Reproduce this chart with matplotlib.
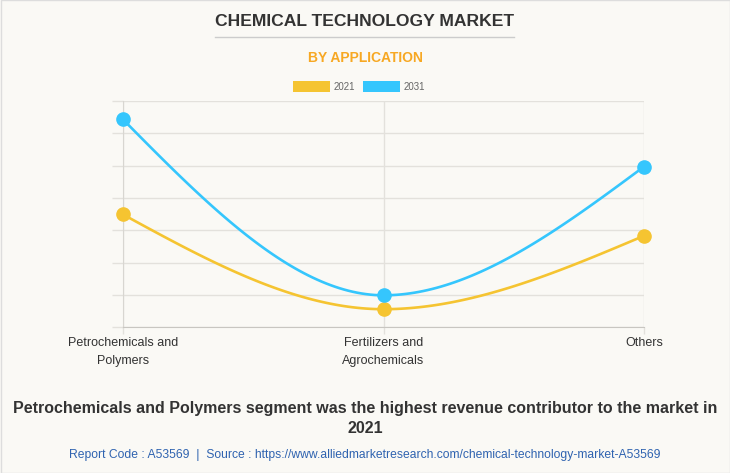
import numpy as np
import matplotlib.pyplot as plt
from matplotlib.patches import Rectangle

plt.rcParams['font.family'] = ['Liberation Sans', 'DejaVu Sans']

categories = ["Petrochemicals and\nPolymers", "Fertilizers and\nAgrochemicals", "Others"]
years = ["2021", "2031"]
values_2021 = [34.9, 5.6, 28.3]
values_2031 = [64.3, 9.9, 49.7]
colors = ["#f5c431", "#35c6fd"]


def monotone(x, y, n=60):
    # monotone cubic (like d3 curveMonotoneX)
    x = np.asarray(x, float)
    y = np.asarray(y, float)
    h = np.diff(x)
    s = np.diff(y) / h
    t = np.zeros_like(y)
    for i in range(1, len(y) - 1):
        if s[i - 1] * s[i] <= 0:
            t[i] = 0
        else:
            p = (s[i - 1] * h[i] + s[i] * h[i - 1]) / (h[i - 1] + h[i])
            t[i] = (np.sign(s[i - 1]) + np.sign(s[i])) * min(abs(s[i - 1]), abs(s[i]), 0.5 * abs(p))
    t[0] = (3 * s[0] - t[1]) / 2
    t[-1] = (3 * s[-1] - t[-2]) / 2
    xs, ys = [], []
    for i in range(len(h)):
        u = np.linspace(0, 1, n)
        h00 = 2 * u**3 - 3 * u**2 + 1
        h10 = u**3 - 2 * u**2 + u
        h01 = -2 * u**3 + 3 * u**2
        h11 = u**3 - u**2
        xs.append(x[i] + u * h[i])
        ys.append(h00 * y[i] + h10 * h[i] * t[i] + h01 * y[i + 1] + h11 * h[i] * t[i + 1])
    return np.concatenate(xs), np.concatenate(ys)


bg = "#faf9f5"
fig = plt.figure(figsize=(7.3, 4.73), dpi=100, facecolor=bg)
ax = fig.add_axes([123 / 730, 1 - 327.3 / 473, 521 / 730, 226.3 / 473])
ax.set_facecolor(bg)

xpos = np.arange(len(categories))
for vals, col, lab in zip([values_2021, values_2031], colors, years):
    sx, sy = monotone(xpos, vals)
    ax.plot(sx, sy, color=col, lw=1.9, solid_capstyle="round", zorder=3, clip_on=False)
    ax.plot(xpos, vals, "o", color=col, ms=9.5, zorder=4, clip_on=False)

ax.set_xlim(0, 2)
ax.set_ylim(0, 70)
ax.set_yticks(np.arange(0, 71, 10))
ax.set_yticklabels([])
ax.set_xticks(xpos)
ax.set_xticklabels(categories, fontsize=9, color="#333333", linespacing=1.65)
ax.tick_params(axis="y", length=8, color="#e3e1dc", width=1)
ax.tick_params(axis="x", length=5, color="#e3e1dc", width=1, pad=2)
ax.grid(True, color="#e3e1dc", lw=1)
ax.set_axisbelow(True)
for side in ["top", "right"]:
    ax.spines[side].set_visible(False)
ax.spines["left"].set_color("#d8d6d1")
ax.spines["bottom"].set_color("#c8c6c1")

fig.text(0.5, 1 - 21 / 473, "CHEMICAL TECHNOLOGY MARKET", ha="center", va="center",
         fontsize=12.6, fontweight="bold", color="#333333")
fig.add_artist(plt.Line2D([215 / 730, 514 / 730], [1 - 37.5 / 473] * 2, color="#cccccc", lw=1))
fig.text(0.5, 1 - 58 / 473, "BY APPLICATION", ha="center", va="center",
         fontsize=10, fontweight="bold", color="#f7a823")

# legend
lx = [293, 363]
for x0, col, lab in zip(lx, colors, years):
    fig.add_artist(Rectangle((x0 / 730, 1 - 92 / 473), 37 / 730, 11 / 473,
                             transform=fig.transFigure, color=col, lw=0))
    fig.text((x0 + 41) / 730, 1 - 86.5 / 473, lab, ha="left", va="center",
             fontsize=7, color="#666666")

fig.text(0.5, 1 - 408 / 473,
         "Petrochemicals and Polymers segment was the highest revenue contributor to the market in",
         ha="center", va="center", fontsize=11.5, fontweight="bold", color="#333333")
fig.text(0.5, 1 - 428 / 473, "2021", ha="center", va="center",
         fontsize=11.5, fontweight="bold", color="#333333")
fig.text(0.5, 1 - 455 / 473,
         "Report Code : A53569  |  Source : https://www.alliedmarketresearch.com/chemical-technology-market-A53569",
         ha="center", va="center", fontsize=8.7, color="#2f63b0")

fig.add_artist(Rectangle((0.5 / 730, 0.5 / 473), 729 / 730, 472 / 473, transform=fig.transFigure,
                         fill=False, edgecolor="#dddddd", lw=1))

fig.savefig("out.png", dpi=100, facecolor=bg)
